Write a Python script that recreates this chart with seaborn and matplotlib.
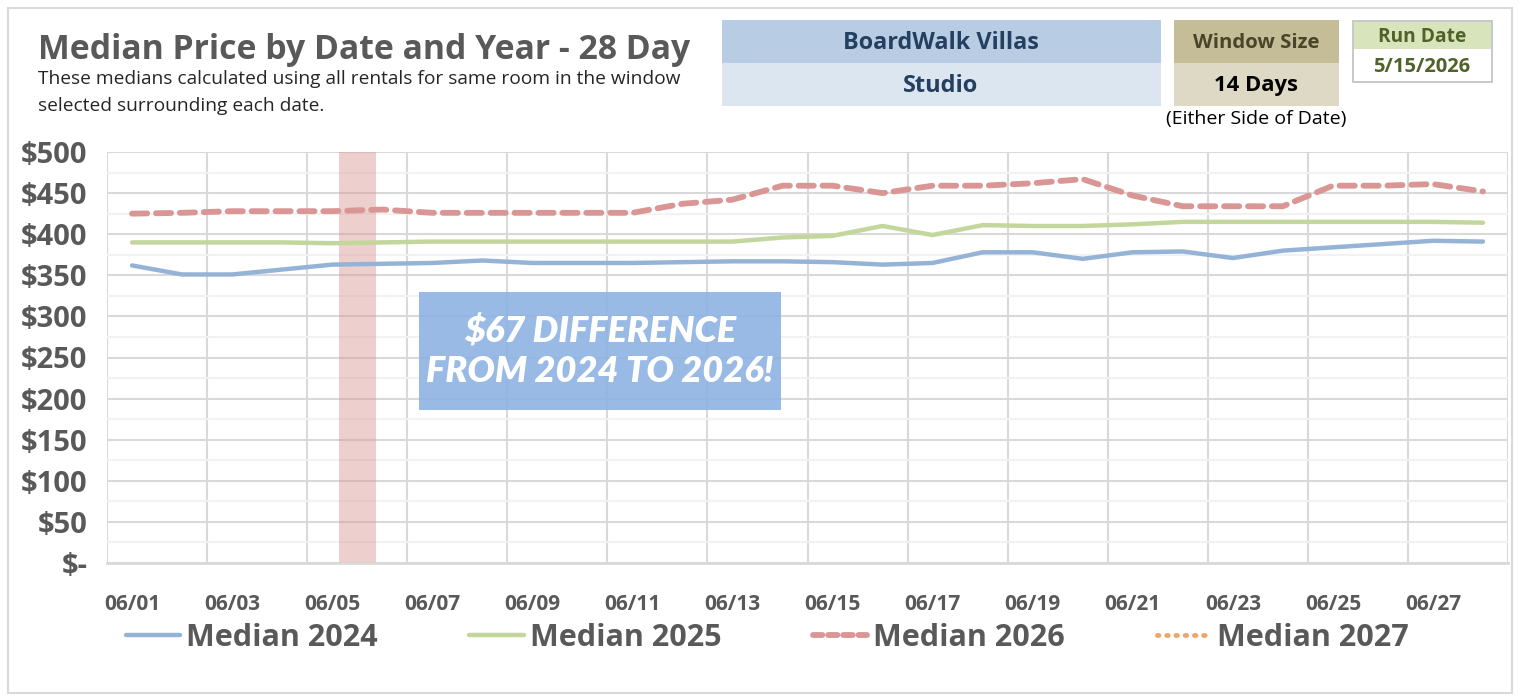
import numpy as np
import pandas as pd
import matplotlib
matplotlib.use("Agg")
import matplotlib.pyplot as plt
from matplotlib.patches import Rectangle
from matplotlib.lines import Line2D
import seaborn as sns

# dados
dates = ["06/%02d" % d for d in range(1, 29)]
median_2024 = [362, 351, 351, 357, 363, 364, 365, 368, 365, 365, 365, 366, 367, 367,
               366, 363, 365, 378, 378, 370, 378, 379, 371, 380, 384, 388, 392, 391]
median_2025 = [390, 390, 390, 390, 389, 390, 391, 391, 391, 391, 391, 391, 391, 396,
               398, 410, 399, 411, 410, 410, 412, 415, 415, 415, 415, 415, 415, 414]
median_2026 = [425, 426, 428, 428, 428, 430, 426, 426, 426, 426, 426, 437, 442, 459,
               459, 450, 459, 459, 462, 467, 447, 434, 434, 434, 459, 459, 461, 452]
yticks = list(range(0, 501, 50))
highlight = (4.14, 4.88)

W, H = 1519, 700
GRAY = "#595959"
GRID = "#D9D9D9"


def fx(px):
    return px / W


def fy(py):
    return 1 - py / H


sns.set_theme(style="white")
plt.rcParams["font.family"] = ["Open Sans", "DejaVu Sans"]

fig = plt.figure(figsize=(W / 100, H / 100), dpi=100)
ax = fig.add_axes([fx(107), fy(563), fx(1508) - fx(107), fy(152) - fy(563)])

df = pd.DataFrame({"x": np.arange(len(dates)),
                   "Median 2024": median_2024,
                   "Median 2025": median_2025,
                   "Median 2026": median_2026})

ax.axvspan(highlight[0], highlight[1], color="#D99694", alpha=0.45, lw=0, zorder=1)
sns.lineplot(data=df, x="x", y="Median 2024", ax=ax, color="#95B3D7", lw=3.2, zorder=3)
sns.lineplot(data=df, x="x", y="Median 2025", ax=ax, color="#C3D69B", lw=3.2, zorder=3)
sns.lineplot(data=df, x="x", y="Median 2026", ax=ax, color="#D99694", lw=4.2, zorder=3,
             dashes=False, linestyle=(0, (2.6, 1.5)), dash_capstyle="round")

ax.set_xlim(-0.5, len(dates) - 0.5)
ax.set_ylim(0, 500)
ax.set_xlabel("")
ax.set_ylabel("")

# grade
ax.set_yticks(yticks)
ax.set_yticks(np.arange(25, 500, 50), minor=True)
ax.set_yticklabels(["$-" if v == 0 else "$%d" % v for v in yticks],
                   fontsize=21, fontweight="bold", color=GRAY)
ax.yaxis.grid(True, which="major", color=GRID, lw=1.5)
ax.yaxis.grid(True, which="minor", color="#F2F2F2", lw=1.5)
ax.set_xticks(np.arange(0, len(dates), 2))
ax.set_xticklabels(dates[::2], fontsize=15, fontweight="bold", color=GRAY)
ax.set_xticks(np.arange(-0.5, len(dates), 2), minor=True)
ax.xaxis.grid(True, which="minor", color=GRID, lw=1.5)
ax.tick_params(axis="x", which="major", length=0, pad=22)
ax.tick_params(axis="x", which="minor", length=6, width=1.5, color=GRID, direction="out")
ax.tick_params(axis="y", which="both", length=0, pad=14)
for s in ["top", "right", "left"]:
    ax.spines[s].set_visible(False)
ax.spines["bottom"].set_color(GRID)
ax.spines["bottom"].set_linewidth(2)

# caixa de texto
ax.add_patch(Rectangle((0.2227, 0.372), 0.2583, 0.287, transform=ax.transAxes,
                       fc="#8DB3E2", ec="none", alpha=0.9, zorder=4))
ax.text(0.352, 0.516, "$67 DIFFERENCE\nFROM 2024 TO 2026!", transform=ax.transAxes,
        ha="center", va="center", fontsize=26, fontweight="heavy", style="italic",
        color="white", family=["Lato", "DejaVu Sans"], linespacing=1.3, zorder=5)

# titulo
fig.text(fx(38), fy(50), "Median Price by Date and Year - 28 Day", fontsize=24.3,
         fontweight="bold", color=GRAY, va="center")
fig.text(fx(38), fy(79), "These medians calculated using all rentals for same room in the window",
         fontsize=13.8, color="#262626", va="center")
fig.text(fx(38), fy(106), "selected surrounding each date.", fontsize=13.8, color="#262626", va="center")


def box(x0, y0, x1, y1, fc, ec="none"):
    fig.patches.append(Rectangle((fx(x0), fy(y1)), fx(x1) - fx(x0), fy(y0) - fy(y1),
                                 transform=fig.transFigure, fc=fc, ec=ec, lw=1.2))


box(722, 20, 1161, 63, "#B8CCE4")
box(722, 63, 1161, 106, "#DCE6F1")
box(1174, 20, 1339, 63, "#C4BD97")
box(1174, 63, 1339, 106, "#DDD9C4")
box(1353, 21, 1492, 82, "white", ec="#BFBFBF")
box(1354, 22, 1491, 49, "#D8E4BC")

fig.text(fx(941), fy(43), "BoardWalk Villas", ha="center", va="center", fontsize=16.8,
         fontweight="bold", color="#243F60")
fig.text(fx(941), fy(86), "Studio", ha="center", va="center", fontsize=17,
         fontweight="bold", color="#243F60")
fig.text(fx(1256), fy(43), "Window Size", ha="center", va="center", fontsize=14.7,
         fontweight="bold", color="#4A452A")
fig.text(fx(1256), fy(86), "14 Days", ha="center", va="center", fontsize=15.8,
         fontweight="bold", color="black")
fig.text(fx(1256), fy(119), "(Either Side of Date)", ha="center", va="center", fontsize=14,
         color="black")
fig.text(fx(1422), fy(37), "Run Date", ha="center", va="center", fontsize=13.8,
         fontweight="bold", color="#4F6228")
fig.text(fx(1422), fy(67), "5/15/2026", ha="center", va="center", fontsize=14.5,
         fontweight="bold", color="#4F6228")

# legenda
handles = [Line2D([], [], color="#95B3D7", lw=3.2),
           Line2D([], [], color="#C3D69B", lw=3.2),
           Line2D([], [], color="#D99694", lw=4.2, linestyle=(0, (1.6, 1.0)), dash_capstyle="round"),
           Line2D([], [], color="#EFA66A", lw=3.5, linestyle=(0, (0.3, 1.6)), dash_capstyle="round")]
labels = ["Median 2024", "Median 2025", "Median 2026", "Median 2027"]
fig.legend(handles, labels, loc="center left", bbox_to_anchor=(fx(126), fy(638)), ncol=4,
           frameon=False, handlelength=1.77, handletextpad=0.2, columnspacing=3.0,
           prop={"family": ["Open Sans", "DejaVu Sans"], "weight": "bold", "size": 22},
           labelcolor=GRAY, borderaxespad=0, borderpad=0)

# borda externa
fig.patches.append(Rectangle((fx(8), fy(693)), fx(1512) - fx(8), fy(8) - fy(693),
                             transform=fig.transFigure, fc="none", ec=GRID, lw=1.5))

fig.savefig("out.png", dpi=100)
